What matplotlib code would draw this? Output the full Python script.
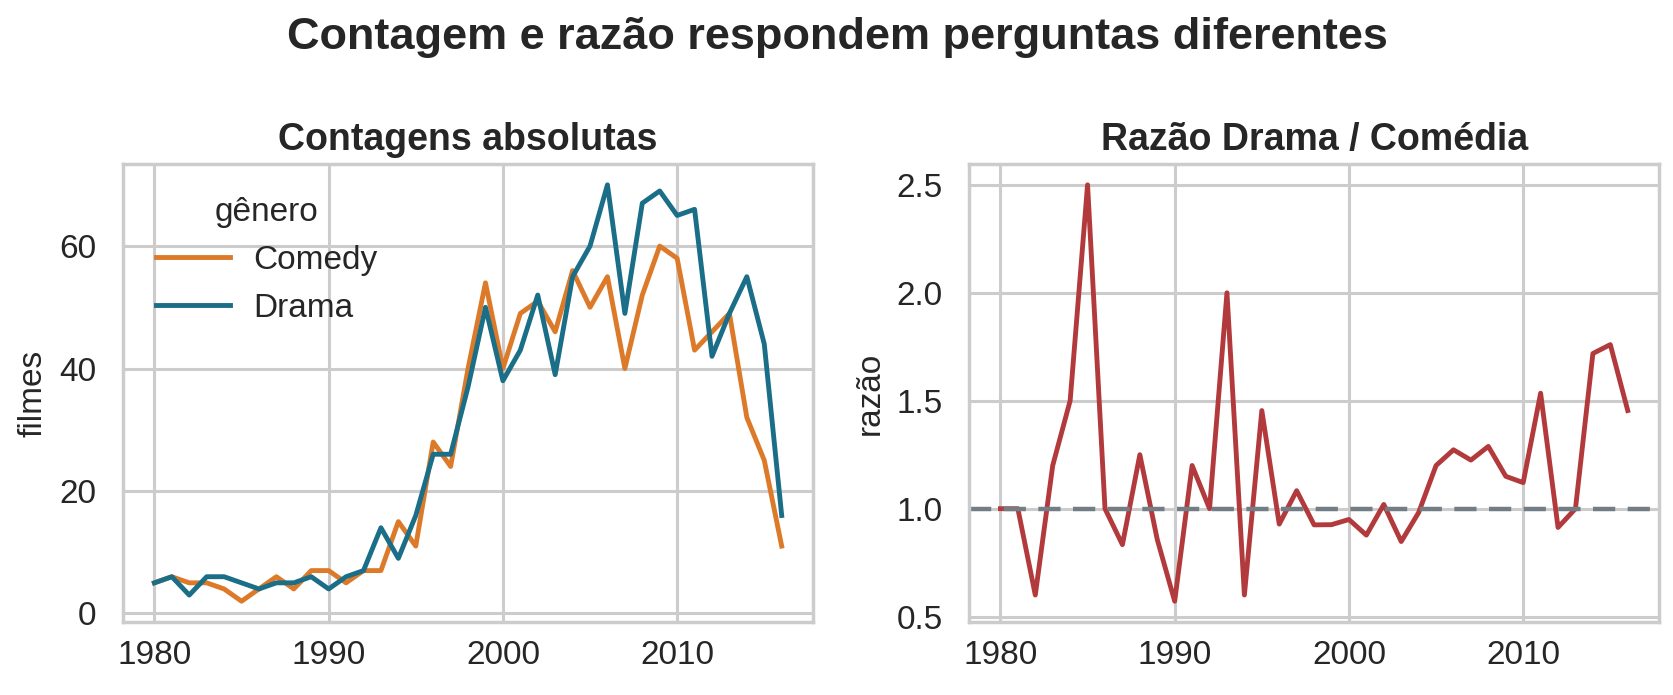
import numpy as np
import matplotlib
matplotlib.use('Agg')
import matplotlib.pyplot as plt

# Films per year and genre
years = list(range(1980, 2017))
comedy = [5, 6, 5, 5, 4, 2, 4, 6, 4, 7, 7, 5, 7, 7, 15, 11, 28, 24, 40, 54,
          40, 49, 51, 46, 56, 50, 55, 40, 52, 60, 58, 43, 46, 49, 32, 25, 11]
drama = [5, 6, 3, 6, 6, 5, 4, 5, 5, 6, 4, 6, 7, 14, 9, 16, 26, 26, 37, 50,
         38, 43, 52, 39, 55, 60, 70, 49, 67, 69, 65, 66, 42, 49, 55, 44, 16]

# Ratio drama / comedy
ratio = np.array(drama) / np.array(comedy)

text_color = '#262626'
grid_color = '#cccccc'
plt.rcParams['font.family'] = ['Liberation Sans', 'DejaVu Sans']
plt.rcParams['text.color'] = text_color
plt.rcParams['axes.labelcolor'] = text_color
plt.rcParams['xtick.color'] = text_color
plt.rcParams['ytick.color'] = text_color

fig = plt.figure(figsize=(16.74, 6.95), dpi=100)
ax1 = fig.add_axes([0.0735, 0.105, 0.4122, 0.659])
ax2 = fig.add_axes([0.5789, 0.105, 0.4122, 0.659])

for ax in (ax1, ax2):
    ax.set_facecolor('white')
    ax.grid(True, color=grid_color, linewidth=2.2)
    ax.set_axisbelow(True)
    for s in ax.spines.values():
        s.set_color(grid_color)
        s.set_linewidth(2.5)
    ax.tick_params(axis='both', length=0, labelsize=24)
    ax.tick_params(axis='x', pad=13)
    ax.tick_params(axis='y', pad=19)
    ax.set_xticks([1980, 1990, 2000, 2010])

# Left: absolute counts
ax1.plot(years, comedy, color='#dc7a29', linewidth=3.5, label='Comedy')
ax1.plot(years, drama, color='#1b6e88', linewidth=3.5, label='Drama')
ax1.set_yticks([0, 20, 40, 60])
ax1.set_ylabel('filmes', fontsize=24, labelpad=8)
ax1.set_title('Contagens absolutas', fontsize=27, fontweight='bold', pad=10)
leg = ax1.legend(title='gênero', loc='upper left', frameon=False, fontsize=24,
                 title_fontsize=24, handlelength=2.2, borderaxespad=0.6,
                 labelspacing=0.5, handletextpad=0.7)

# Right: ratio
ax2.plot(years, ratio, color='#b33a3c', linewidth=3.5)
ax2.axhline(1.0, color='#737d86', linewidth=3.2, linestyle=(0, (5, 2.8)))
ax2.set_yticks([0.5, 1.0, 1.5, 2.0, 2.5])
ax2.set_ylabel('razão', fontsize=24, labelpad=8)
ax2.set_title('Razão Drama / Comédia', fontsize=27, fontweight='bold', pad=10)

fig.suptitle('Contagem e razão respondem perguntas diferentes', fontsize=32.5,
             fontweight='bold', y=0.975)

fig.savefig('out.png', dpi=100, facecolor='white')
